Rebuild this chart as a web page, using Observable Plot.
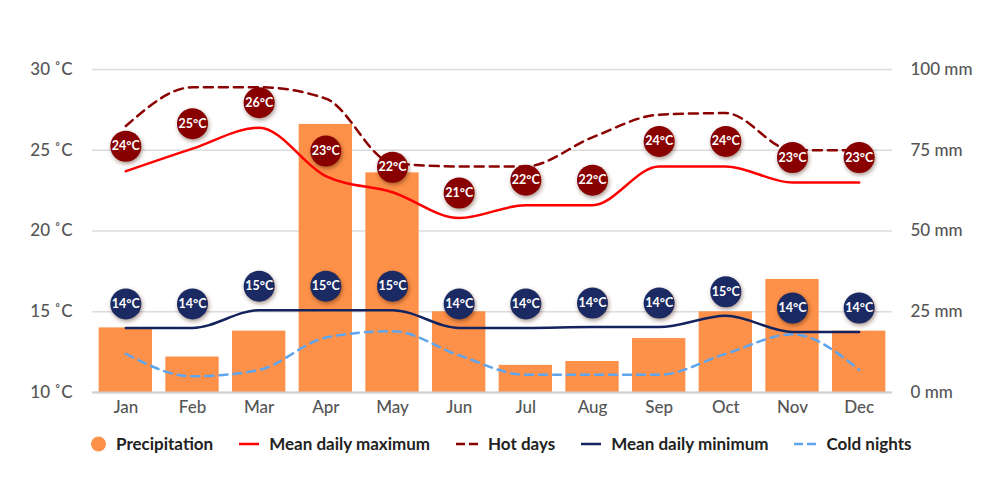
<!DOCTYPE html>
<html><head><meta charset="utf-8">
<script src="https://cdn.jsdelivr.net/npm/d3@7"></script>
<script src="https://cdn.jsdelivr.net/npm/@observablehq/plot@0.6"></script>
<style>
body{margin:0;background:#fff;font-family:Lato,sans-serif;}
#chart{position:relative;width:1000px;height:500px;overflow:hidden;}
.legend{position:absolute;left:91px;top:433px;display:flex;align-items:center;font-weight:700;font-size:17px;color:#222;white-space:nowrap;}
.item{display:flex;align-items:center;margin-right:26px;}
.sw{margin-right:10px;display:block;}
</style></head><body><div id="chart"></div>
<script>
const months = ["Jan","Feb","Mar","Apr","May","Jun","Jul","Aug","Sep","Oct","Nov","Dec"];
const precipitation = [20, 11, 19, 83, 68, 25, 8.4, 9.6, 16.7, 25, 35, 19];
const meanMax = [23.7, 25.1, 26.4, 23.4, 22.4, 20.8, 21.6, 21.6, 24.0, 24.0, 23.0, 23.0];
const hotDays = [26.5, 28.9, 28.9, 28.2, 24.2, 24.0, 24.0, 25.8, 27.2, 27.3, 25.0, 25.0];
const meanMin = [14.0, 14.0, 15.1, 15.1, 15.1, 14.0, 14.0, 14.05, 14.05, 14.75, 13.75, 13.75];
const coldNights = [12.4, 11.0, 11.4, 13.4, 13.8, 12.3, 11.1, 11.1, 11.1, 12.4, 13.6, 11.4];
const tempTicks = [10, 15, 20, 25, 30];
const mmTicks = [0, 25, 50, 75, 100];

const mmToT = mm => 10 + mm / 5;
const rows = months.map((m, i) => ({
  month: m, precip: precipitation[i], max: meanMax[i], hot: hotDays[i], min: meanMin[i], cold: coldNights[i]
}));

const C = {bar: "#FD9149", max: "#FF0000", hot: "#8B0000", min: "#13235E", cold: "#5FA5EE", maxDot: "#880000", minDot: "#1B2A63"};
const shadow = "drop-shadow(1px 2px 2px rgba(60,20,0,0.45))";

const chart = Plot.plot({
  width: 1000,
  height: 425,
  marginTop: 69,
  marginLeft: 92,
  marginRight: 108,
  marginBottom: 33,
  style: {fontFamily: "Lato, sans-serif", fontSize: "17px", color: "#555", background: "#fff"},
  x: {domain: months, paddingInner: 0.2, paddingOuter: 0.1, round: false},
  y: {domain: [10, 30]},
  marks: [
    Plot.gridY(tempTicks, {stroke: "#dcdcdc", strokeOpacity: 1, strokeWidth: 1.5}),
    Plot.barY(rows, {x: "month", y1: 10, y2: d => mmToT(d.precip), fill: C.bar}),
    Plot.ruleY([10], {stroke: "#d0d0d0", strokeWidth: 2}),
    Plot.axisX({tickSize: 0, tickPadding: 8, label: null, fontWeight: 500}),
    Plot.axisY(tempTicks, {anchor: "left", tickSize: 0, tickPadding: 20, label: null, fontWeight: 500, tickFormat: d => `${d} ˚C`}),
    Plot.axisY(mmTicks.map(mmToT), {anchor: "right", tickSize: 0, tickPadding: 18, label: null, fontWeight: 500, tickFormat: t => `${Math.round((t - 10) * 5)} mm`}),
    Plot.line(rows, {x: "month", y: "cold", stroke: C.cold, strokeWidth: 2.5, strokeDasharray: "8,6", curve: "monotone-x"}),
    Plot.line(rows, {x: "month", y: "min", stroke: C.min, strokeWidth: 2.5, curve: "monotone-x"}),
    Plot.line(rows, {x: "month", y: "hot", stroke: C.hot, strokeWidth: 2.5, strokeDasharray: "9,6", curve: "monotone-x"}),
    Plot.line(rows, {x: "month", y: "max", stroke: C.max, strokeWidth: 2.5, curve: "monotone-x"}),
    Plot.dot(rows, {x: "month", y: "max", dy: -25, r: 15.5, fill: C.maxDot, stroke: null, imageFilter: shadow}),
    Plot.text(rows, {x: "month", y: "max", dy: -25, text: d => `${Math.round(d.max)}°C`, fill: "#fff", fontSize: 12.5, fontWeight: 700, letterSpacing: "-0.8px"}),
    Plot.dot(rows, {x: "month", y: "min", dy: -24, r: 15.5, fill: C.minDot, stroke: null, imageFilter: shadow}),
    Plot.text(rows, {x: "month", y: "min", dy: -24, text: d => `${Math.round(d.min)}°C`, fill: "#fff", fontSize: 12.5, fontWeight: 700, letterSpacing: "-0.8px"})
  ]
});

const root = document.getElementById("chart");
root.appendChild(chart);

const legendItems = [
  {label: "Precipitation", type: "dot", color: C.bar},
  {label: "Mean daily maximum", type: "line", color: C.max},
  {label: "Hot days", type: "dash", color: C.hot},
  {label: "Mean daily minimum", type: "line", color: C.min},
  {label: "Cold nights", type: "dash", color: C.cold}
];
const legend = document.createElement("div");
legend.className = "legend";
for (const it of legendItems) {
  const item = document.createElement("div");
  item.className = "item";
  let sw;
  if (it.type === "dot") {
    sw = `<svg class="sw" width="15" height="16"><circle cx="7.5" cy="8" r="7.5" fill="${it.color}"/></svg>`;
  } else if (it.type === "line") {
    sw = `<svg class="sw" width="20" height="16"><line x1="0" x2="20" y1="8" y2="8" stroke="${it.color}" stroke-width="2.5"/></svg>`;
  } else {
    sw = `<svg class="sw" width="22" height="16"><line x1="0" x2="22" y1="8" y2="8" stroke="${it.color}" stroke-width="2.5" stroke-dasharray="9,4"/></svg>`;
  }
  item.innerHTML = sw + `<span>${it.label}</span>`;
  legend.appendChild(item);
}
root.appendChild(legend);
</script>
</body></html>
